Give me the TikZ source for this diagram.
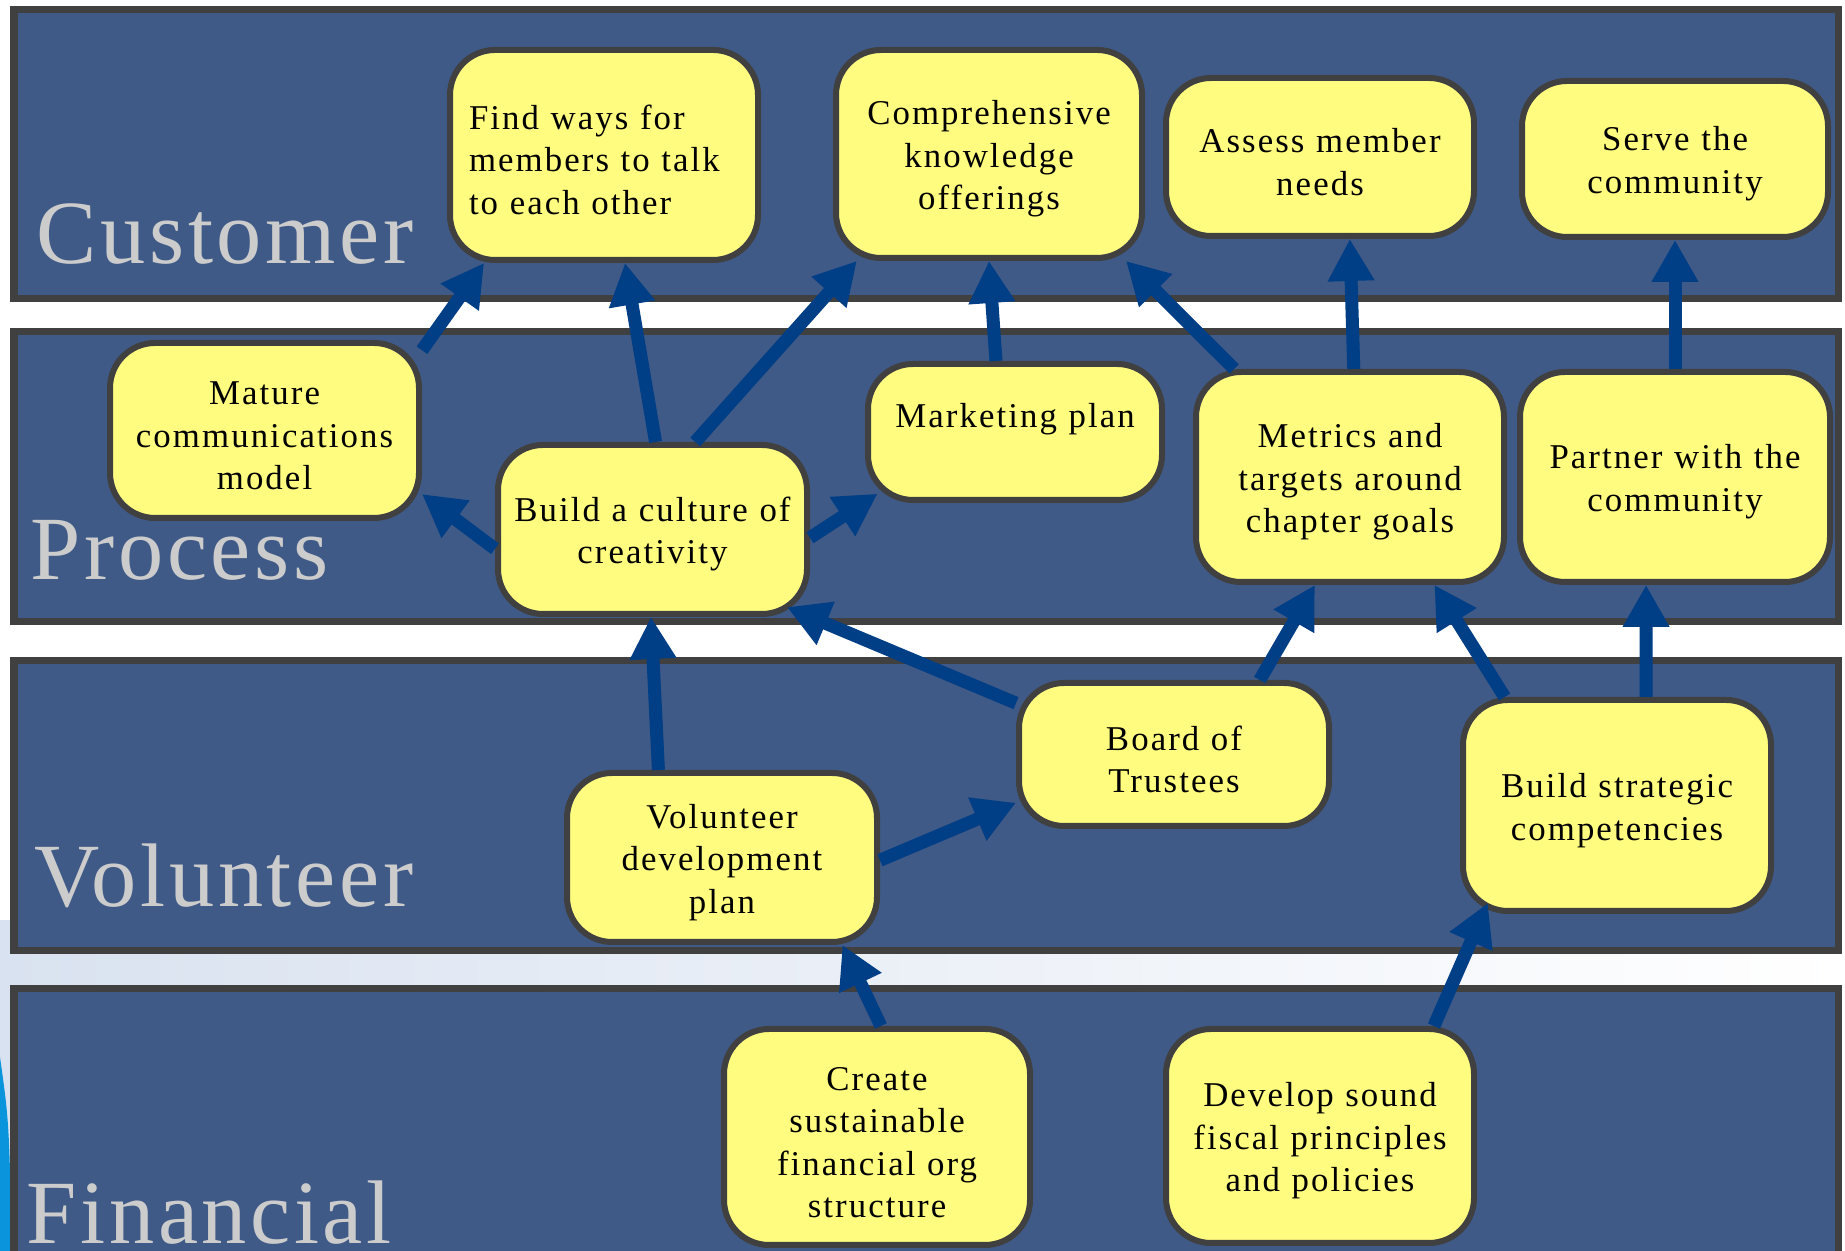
\documentclass[tikz,border=0pt]{standalone}
\usepackage{fontspec}
\setmainfont{Liberation Serif}
\newfontfamily\boxfont{Liberation Serif}[LetterSpace=6]
\newfontfamily\lanefont{Liberation Serif}[LetterSpace=4]
\usetikzlibrary{arrows.meta}
\definecolor{laneblue}{HTML}{3F5A87}
\definecolor{lanegray}{HTML}{404040}
\definecolor{boxyellow}{HTML}{FFFC80}
\definecolor{boxgray}{HTML}{404040}
\definecolor{arrowblue}{HTML}{003E86}
\definecolor{labelgray}{HTML}{CCCCCC}
\definecolor{gapblue}{HTML}{D9E2F0}
\tikzset{
  lane/.style={draw=lanegray, line width=0.07cm, fill=laneblue},
  lanelabel/.style={anchor=base west, inner sep=0, text=labelgray, font={\lanefont\fontsize{25.7pt}{30pt}\selectfont}},
  goal/.style={draw=boxgray, line width=0.06cm, fill=boxyellow, rounded corners=0.45cm, minimum width=3.08cm, text width=2.9cm, align=center, inner sep=0, font={\boxfont\fontsize{9.9pt}{12.1pt}\selectfont}, execute at begin node={\rule{0pt}{0.34cm}}},
  flow/.style={-{Triangle[length=0.42cm,width=0.44cm]}, line width=0.13cm, draw=arrowblue}
}
\begin{document}
\begin{tikzpicture}
\useasboundingbox (0,0) rectangle (18.45,12.51);
\clip (0,0) rectangle (18.45,12.51);
\fill[white] (0,0) rectangle (18.45,12.51);
\shade[left color=gapblue, right color=white] (0,0) rectangle (18.45,3.3);
\fill[cyan!80!blue] (0,1.94) .. controls (0.09,1.3) .. (0.12,0) -- (0,0) -- cycle;

\draw[lane] (0.14,9.52) rectangle (18.38,12.41);
\draw[lane] (0.14,6.29) rectangle (18.38,9.19);
\draw[lane] (0.14,3.00) rectangle (18.38,5.90);
\draw[lane] (0.14,-0.2) rectangle (18.38,2.62);

\node[lanelabel] (customer) at (0.36,9.87) {Customer};
\node[lanelabel] (process) at (0.30,6.71) {Process};
\node[lanelabel] (volunteer) at (0.34,3.445) {Volunteer};
\node[lanelabel] (financial) at (0.26,0.07) {Financial};

\node[goal, minimum height=2.10cm, text width=2.7cm, align=left] (find) at (6.04,10.96) {Find ways for\\members to talk\\to each other};
\node[goal, minimum width=3.06cm, minimum height=2.08cm] (compr) at (9.89,10.97) {Comprehensive\\knowledge\\offerings};
\node[goal, minimum height=1.58cm] (assess) at (13.20,10.94) {Assess member\\needs};
\node[goal, minimum width=3.06cm, minimum height=1.56cm] (serve) at (16.75,10.92) {Serve the\\community};

\node[goal, minimum width=3.09cm, minimum height=1.75cm] (mature) at (2.645,8.205) {Mature\\communications\\model};
\node[goal, minimum width=3.09cm, minimum height=1.69cm] (culture) at (6.525,7.215) {Build a culture of\\creativity};
\node[goal, minimum width=2.94cm, minimum height=1.36cm] (marketing) at (10.15,8.19) {Marketing plan\\~};
\node[goal, minimum height=2.10cm] (metrics) at (13.50,7.74) {Metrics and\\targets around\\chapter goals};
\node[goal, minimum width=3.10cm, minimum height=2.10cm] (partner) at (16.75,7.74) {Partner with the\\community};

\node[goal, minimum width=3.10cm, minimum height=1.69cm] (voldev) at (7.22,3.935) {Volunteer\\development\\plan};
\node[goal, minimum width=3.10cm, minimum height=1.43cm] (board) at (11.74,4.965) {Board of\\Trustees};
\node[goal, minimum height=2.11cm] (strategic) at (16.17,4.455) {Build strategic\\competencies};

\node[goal, minimum width=3.06cm, minimum height=2.16cm] (create) at (8.77,1.14) {Create\\sustainable\\financial org\\structure};
\node[goal, minimum height=2.14cm] (develop) at (13.20,1.15) {Develop sound\\fiscal principles\\and policies};

\draw[flow] (mature.27) -- (find.222);
\draw[flow] (culture.88) -- (find.281);
\draw[flow] (culture.64) -- (compr.219);
\draw[flow] (culture.187) -- (mature.338);
\draw[flow, shorten >=-0.15cm] (culture.357) -- (marketing.205);
\draw[flow] (marketing.105) -- (compr.270);
\draw[flow] (metrics.137) -- (compr.322);
\draw[flow] (metrics.88) -- (assess.290);
\draw[flow] (partner.north) -- (serve.south);
\draw[flow] (voldev.126) -- (culture.269);
\draw[flow, shorten >=-0.25cm] (board.162) -- (culture.331);
\draw[flow] (voldev.359) -- (board.197);
\draw[flow] (board.41) -- (metrics.252);
\draw[flow] (strategic.136) -- (metrics.308);
\draw[flow] (strategic.75) -- (partner.255);
\draw[flow] (create.88) -- (voldev.324);
\draw[flow, shorten >=-0.12cm] (develop.44) -- (strategic.219);
\end{tikzpicture}
\end{document}
